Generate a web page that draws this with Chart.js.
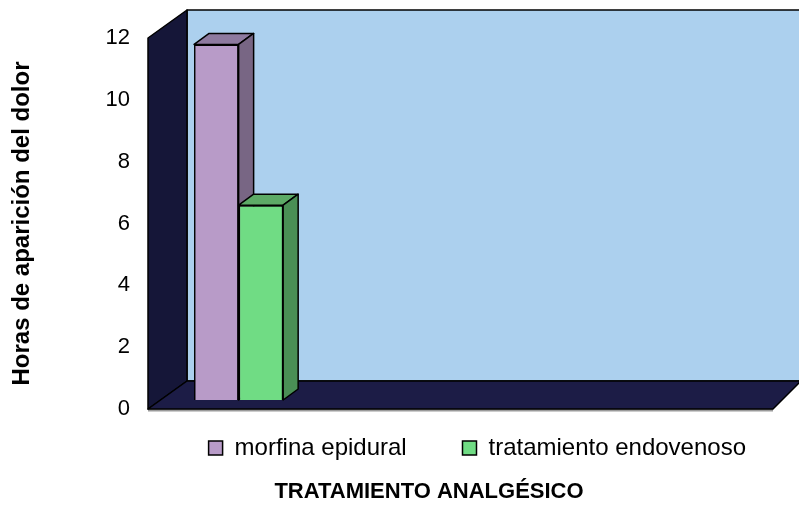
<!DOCTYPE html>
<html>
<head>
<meta charset="utf-8">
<script src="https://cdn.jsdelivr.net/npm/chart.js@4.4.1/dist/chart.umd.min.js"></script>
<style>
  html, body { margin: 0; padding: 0; background: #fff; }
</style>
</head>
<body>
<canvas id="myChart" width="799" height="508"></canvas>
<script>
// 4 grupos en el eje, solo el primero tiene valores
const categorias = ['', '', '', ''];
const morfina_epidural = [11.5, null, null, null];
const tratamiento_endovenoso = [6.3, null, null, null];
const ticks_y = [0, 2, 4, 6, 8, 10, 12];

// caras 3D: [frente, arriba, lado]
const colores_morfina = ['#b89bc8', '#8e7a9f', '#786684'];
const colores_endovenoso = ['#70dc84', '#5daa66', '#4a8f55'];

function poligono(ctx, pts, fill) {
    ctx.beginPath();
    ctx.moveTo(pts[0][0], pts[0][1]);
    for (let i = 1; i < pts.length; i++) ctx.lineTo(pts[i][0], pts[i][1]);
    ctx.closePath();
    ctx.fillStyle = fill;
    ctx.fill();
    ctx.stroke();
}

// paredes, suelo y caras laterales de las barras
const efecto3d = {
    id: 'efecto3d',
    afterLayout(chart) {
        // el titulo del eje x va algo a la izquierda del centro del grafico
        chart.titleBlock.left -= 63;
    },
    beforeDatasetsDraw(chart) {
        const ctx = chart.ctx;
        const a = chart.chartArea;
        const d = 39, h = 28, dr = 28;
        ctx.save();
        ctx.lineWidth = 1.5;
        ctx.strokeStyle = '#000';
        ctx.lineJoin = 'round';
        // sombra gris bajo el suelo
        ctx.fillStyle = '#9a9a9a';
        ctx.fillRect(a.left, a.bottom, a.right - a.left, 2.5);
        poligono(ctx, [[a.left + d, a.top - h], [a.right + dr, a.top - h], [a.right + dr, a.bottom - h], [a.left + d, a.bottom - h]], '#acd0ee');
        poligono(ctx, [[a.left, a.top], [a.left + d, a.top - h], [a.left + d, a.bottom - h], [a.left, a.bottom]], '#151638');
        poligono(ctx, [[a.left, a.bottom], [a.left + d, a.bottom - h], [a.right + dr, a.bottom - h], [a.right, a.bottom]], '#1c1c46');
        ctx.restore();
        // las barras estan un poco mas al fondo que el plano frontal
        ctx.save();
        ctx.translate(12.5, -9);
    },
    afterDatasetsDraw(chart) {
        const ctx = chart.ctx;
        const bx = 15, by = 11;
        ctx.save();
        ctx.lineWidth = 1.5;
        ctx.strokeStyle = '#000';
        ctx.lineJoin = 'round';
        // se vuelve a pintar cada barra de izquierda a derecha con su techo y su lado
        categorias.forEach((c, i) => {
            chart.data.datasets.forEach((ds, j) => {
                if (ds.data[i] == null) return;
                const el = chart.getDatasetMeta(j).data[i];
                const p = el.getProps(['x', 'y', 'base', 'width'], true);
                const l = p.x - p.width / 2, r = p.x + p.width / 2;
                el.draw(ctx);
                poligono(ctx, [[l, p.y], [l + bx, p.y - by], [r + bx, p.y - by], [r, p.y]], ds.caras[1]);
                poligono(ctx, [[r, p.y], [r + bx, p.y - by], [r + bx, p.base - by], [r, p.base]], ds.caras[2]);
            });
        });
        ctx.restore();
        ctx.restore();
    }
};

Chart.defaults.font.family = '"Liberation Sans", Arial, sans-serif';
Chart.defaults.color = '#000';

const ctx = document.getElementById('myChart');

new Chart(ctx, {
    type: 'bar',
    data: {
        labels: categorias,
        datasets: [{
            label: 'morfina epidural',
            data: morfina_epidural,
            backgroundColor: colores_morfina[0],
            caras: colores_morfina,
            borderColor: '#000',
            borderWidth: 1.5,
            clip: false
        }, {
            label: 'tratamiento endovenoso',
            data: tratamiento_endovenoso,
            backgroundColor: colores_endovenoso[0],
            caras: colores_endovenoso,
            borderColor: '#000',
            borderWidth: 1.5,
            clip: false
        }]
    },
    options: {
        responsive: false,
        animation: false,
        devicePixelRatio: 1,
        datasets: {
            bar: { categoryPercentage: 0.57, barPercentage: 1.0 }
        },
        layout: {
            padding: { top: 38, right: 26, left: 4, bottom: 2.6 }
        },
        scales: {
            x: { display: false },
            y: {
                min: 0,
                max: 12,
                afterBuildTicks: axis => { axis.ticks = ticks_y.map(v => ({ value: v })); },
                afterFit: scale => { scale.width = 144; },
                grid: { display: false, drawTicks: false },
                border: { display: false },
                ticks: { font: { size: 22 }, padding: 18 },
                title: {
                    display: true,
                    text: 'Horas de aparición del dolor',
                    font: { size: 24, weight: 'bold' },
                    padding: { top: 4, bottom: 0 }
                }
            }
        },
        plugins: {
            tooltip: { enabled: false },
            legend: {
                position: 'bottom',
                fullSize: false,
                align: 'end',
                labels: {
                    font: { size: 24 },
                    boxWidth: 14,
                    boxHeight: 14,
                    padding: 27,
                    // hueco mas ancho entre las dos entradas, como en el original
                    generateLabels: chart => Chart.defaults.plugins.legend.labels.generateLabels(chart)
                        .map((it, i) => { if (i === 0) it.text += '\u2003\u2009'; return it; })
                }
            },
            title: {
                display: true,
                text: 'TRATAMIENTO ANALGÉSICO',
                position: 'bottom',
                fullSize: false,
                font: { size: 22, weight: 'bold' },
                padding: { top: 9, bottom: 0 }
            }
        }
    },
    plugins: [efecto3d]
});
</script>
</body>
</html>
